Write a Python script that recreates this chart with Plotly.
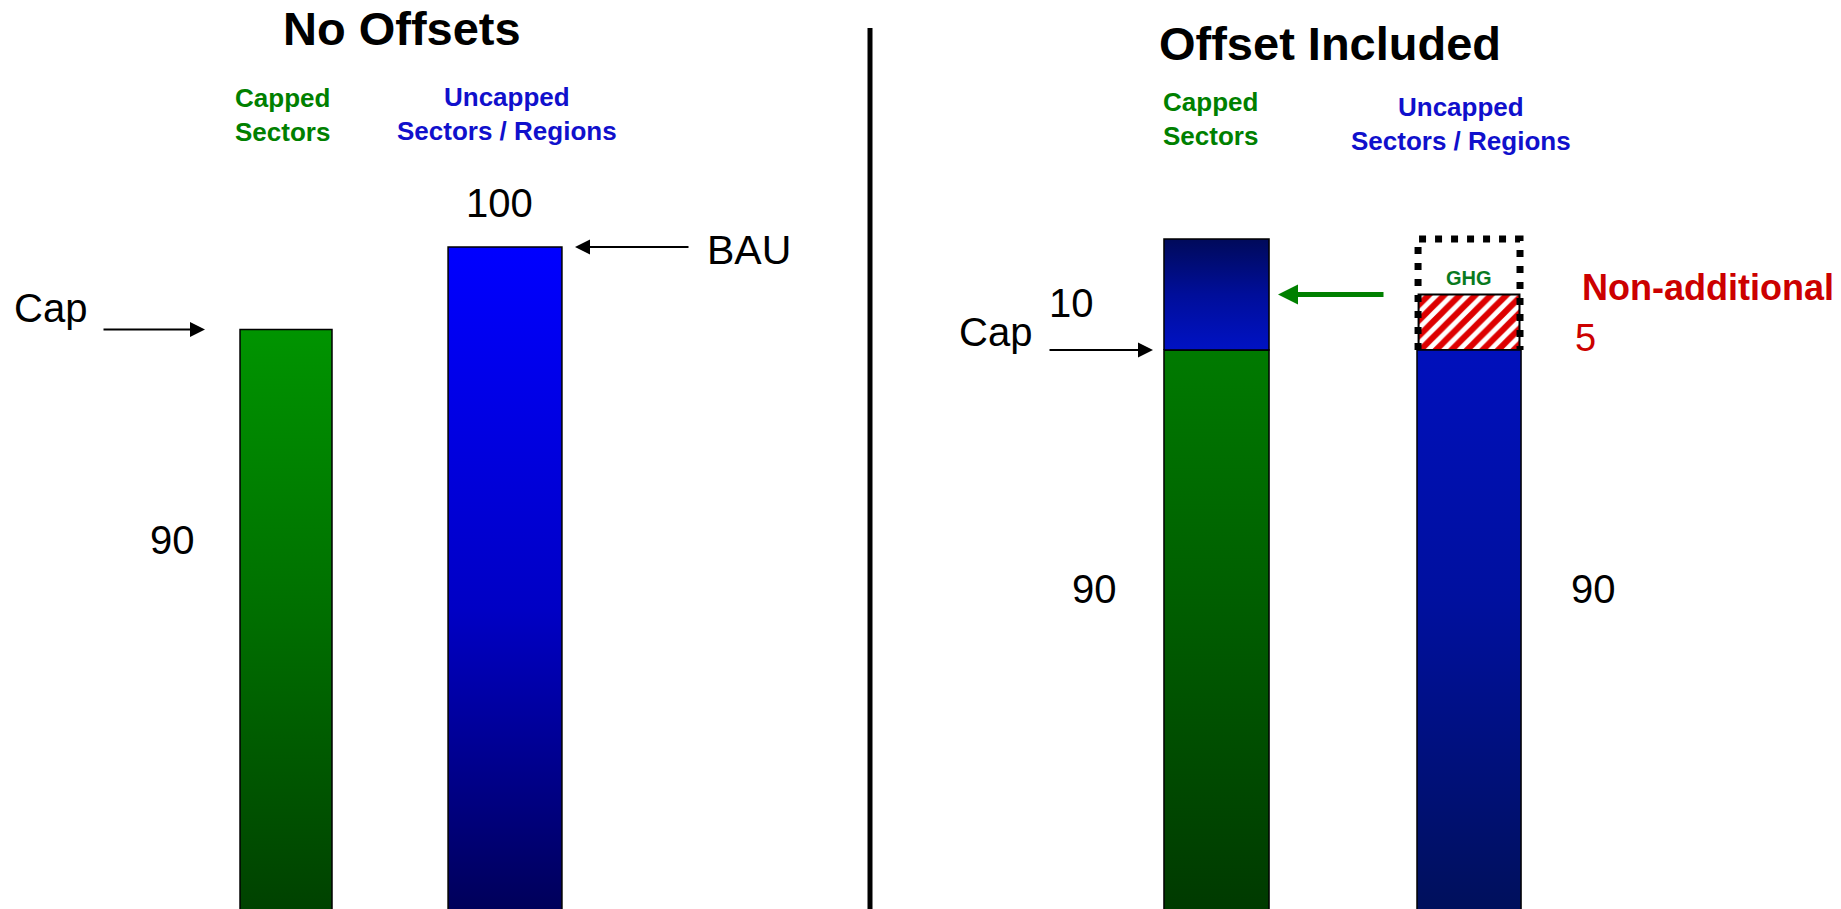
import plotly.graph_objects as go

W, H = 1841, 909
FONT = "Liberation Sans, Arial, sans-serif"

# ---- data -------------------------------------------------------------
sector_labels = ["Capped<br>Sectors", "Uncapped<br>Sectors / Regions"]
sector_colors = ["#008000", "#1010CC"]

# Scenario 1: no offsets
no_offset_emissions = [90, 100]      # capped sectors (cap), uncapped sectors (BAU)

# Scenario 2: offsets included
cap_level = 90                       # capped sectors' cap
offset_credits = 10                  # credits bought on top of the cap
uncapped_emissions = 90              # uncapped sectors after the project
non_additional = 5                   # credited but non-additional part
ghg_claimed = 10                     # claimed GHG reduction (dotted box)

# ---- styling ----------------------------------------------------------
green_grad_left = [[0, "#004200"], [0.5, "#006E00"], [1, "#009400"]]
blue_grad_left = [[0, "#00005A"], [0.45, "#0000C4"], [1, "#0000FF"]]
green_grad_right = [[0, "#003A00"], [0.55, "#005E00"], [1, "#007A00"]]
offset_grad_right = [[0, "#0012C4"], [0.5, "#000E9A"], [1, "#000A5A"]]
blue_grad_right = [[0, "#00105C"], [0.55, "#00109E"], [1, "#0010BC"]]

LEFT_Y = [19.76, 129.94]
RIGHT_Y = [39.64, 121.53]
LEFT_DOMAIN = [0.0, 0.47]
RIGHT_DOMAIN = [0.48, 1.0]
LEFT_X = [-1.306, 2.645]
RIGHT_X = [-1.318, 2.473]
positions = [0, 1]
w_left = [0.42, 0.52]
w_right = [0.416, 0.412]


def rect(xc, w, base, top):
    xs = [xc - w / 2, xc + w / 2, xc + w / 2, xc - w / 2, xc - w / 2]
    ys = [base, base, top, top, base]
    return xs, ys


def grad_bar(xc, w, base, top, scale, lo, xa, ya):
    xs, ys = rect(xc, w, base, top)
    return go.Scatter(
        x=xs, y=ys, mode="lines", fill="toself",
        line=dict(color="black", width=1.5),
        fillgradient=dict(type="vertical", colorscale=scale,
                          start=max(base, lo), stop=top),
        hoverinfo="skip", showlegend=False, xaxis=xa, yaxis=ya,
    )


fig = go.Figure()

# left panel: no offsets
fig.add_trace(grad_bar(positions[0], w_left[0], 0, no_offset_emissions[0],
                       green_grad_left, LEFT_Y[0], "x", "y"))
fig.add_trace(grad_bar(positions[1], w_left[1], 0, no_offset_emissions[1],
                       blue_grad_left, LEFT_Y[0], "x", "y"))

# right panel: offsets included
fig.add_trace(grad_bar(positions[0], w_right[0], 0, cap_level,
                       green_grad_right, RIGHT_Y[0], "x2", "y2"))
fig.add_trace(grad_bar(positions[0], w_right[0], cap_level,
                       cap_level + offset_credits,
                       offset_grad_right, RIGHT_Y[0], "x2", "y2"))
fig.add_trace(grad_bar(positions[1], w_right[1], 0, uncapped_emissions,
                       blue_grad_right, RIGHT_Y[0], "x2", "y2"))

# dotted outline of the claimed reduction (left, top and right sides)
bx, by = rect(positions[1], w_right[1] * 0.98, uncapped_emissions,
              uncapped_emissions + ghg_claimed)
fig.add_trace(go.Scatter(
    x=bx[::-1][:4], y=by[::-1][:4], mode="lines",
    line=dict(color="black", width=7, dash="7px,9px"),
    hoverinfo="skip", showlegend=False, xaxis="x2", yaxis="y2"))

# hatched non-additional portion
fig.add_trace(go.Bar(
    x=[positions[1]], y=[non_additional], base=[uncapped_emissions],
    width=[w_right[1] * 0.97],
    marker=dict(color="white", line=dict(color="black", width=2),
                pattern=dict(shape="/", fgcolor="#DD0000", bgcolor="white",
                             fgopacity=1, size=11, solidity=0.55)),
    hoverinfo="skip", showlegend=False, xaxis="x2", yaxis="y2"))


def P(x, y):
    return x / W, 1 - y / H


def text(x, y, s, size, color="black", bold=False):
    px, py = P(x, y)
    fig.add_annotation(
        x=px, y=py, xref="paper", yref="paper", text=f"<b>{s}</b>" if bold else s,
        showarrow=False, xanchor="center", yanchor="middle",
        font=dict(family=FONT, size=size, color=color))


def arrow(x_tip, y_val, yref, dx, color="black", width=2, size=1.5):
    fig.add_annotation(
        x=x_tip / W, y=y_val, xref="paper", yref=yref, ax=dx, ay=0,
        text="", showarrow=True, arrowhead=2, arrowsize=size,
        arrowwidth=width, arrowcolor=color)


# titles
text(402, 29, "No Offsets", 47, bold=True)
text(1330, 44, "Offset Included", 47, bold=True)

# sector headers
text(282, 115, sector_labels[0], 26, sector_colors[0], bold=True)
text(507, 114, sector_labels[1], 26, sector_colors[1], bold=True)
text(1210, 119, sector_labels[0], 26, sector_colors[0], bold=True)
text(1461, 124, sector_labels[1], 26, sector_colors[1], bold=True)

# left panel labels
text(50, 308, "Cap", 40)
text(172, 540, str(no_offset_emissions[0]), 40)
text(499, 203, str(no_offset_emissions[1]), 40)
text(749, 250, "BAU", 41)
arrow(205, no_offset_emissions[0], "y", -103)
arrow(575, no_offset_emissions[1], "y", 115)

# right panel labels
text(995, 332, "Cap", 40)
text(1071, 303, str(offset_credits), 40)
text(1094, 589, str(cap_level), 40)
text(1593, 589, str(uncapped_emissions), 40)
fig.add_annotation(
    x=positions[1], y=uncapped_emissions + non_additional, xref="x2", yref="y2",
    text="<b>GHG</b>", showarrow=False, xanchor="center", yanchor="bottom",
    yshift=3, font=dict(family=FONT, size=20, color="#0A7A1E"))
text(1708, 287, "Non-additional", 36, "#CC0000", bold=True)
text(1585, 338, str(non_additional), 38, "#CC0000")
arrow(1153, cap_level, "y2", -105)
arrow(1278, cap_level + offset_credits / 2, "y2", 107,
      color="#008000", width=5, size=0.8)

# panel divider
fig.add_shape(type="line", xref="paper", yref="paper",
              x0=870 / W, x1=870 / W, y0=1 - 28 / H, y1=0,
              line=dict(color="black", width=5))

axis = dict(visible=False, fixedrange=True, showgrid=False, zeroline=False)
fig.update_layout(
    width=W, height=H, margin=dict(l=0, r=0, t=0, b=0),
    paper_bgcolor="white", plot_bgcolor="white", showlegend=False,
    xaxis=dict(axis, domain=LEFT_DOMAIN, range=LEFT_X),
    yaxis=dict(axis, domain=[0, 1], range=LEFT_Y),
    xaxis2=dict(axis, domain=RIGHT_DOMAIN, range=RIGHT_X, anchor="y2"),
    yaxis2=dict(axis, domain=[0, 1], range=RIGHT_Y, anchor="x2"),
)

fig.write_html("out.html")
